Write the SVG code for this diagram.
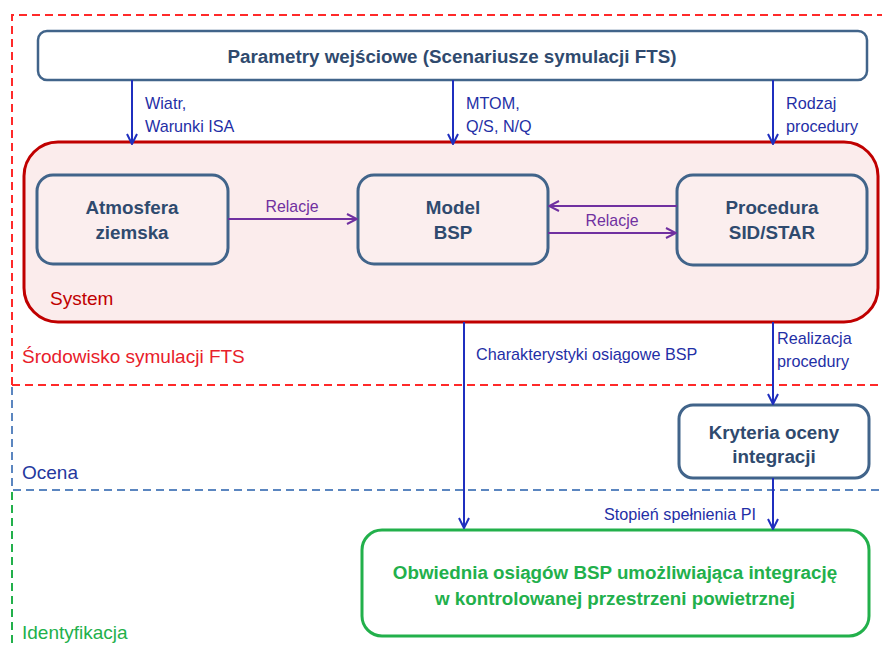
<svg xmlns="http://www.w3.org/2000/svg" width="882" height="646" viewBox="0 0 882 646">
<style>
.t{font-family:"Liberation Sans",Arial,sans-serif}
.nb{fill:#fbeeee;stroke:#41648a;stroke-width:3}
.nt{font-weight:bold;font-size:18.8px;fill:#2f4a6e;text-anchor:middle}
.bl{stroke:#1f2fbf;stroke-width:2;fill:none}
.pl{stroke:#7030a0;stroke-width:2;fill:none}
.bt{font-size:16.2px;fill:#1f2fa6}
.pt{font-size:15.9px;fill:#7030a0;text-anchor:middle}
.dz{fill:none;stroke-width:2;stroke-dasharray:8,5}
</style>
<defs>
<marker id="ab" viewBox="0 0 12 12" refX="11" refY="6" markerWidth="12" markerHeight="12" markerUnits="userSpaceOnUse" orient="auto">
<path d="M1,1 L11,6 L1,11" fill="none" stroke="#1f2fbf" stroke-width="2"/>
</marker>
<marker id="ap" viewBox="0 0 12 12" refX="11" refY="6" markerWidth="12" markerHeight="12" markerUnits="userSpaceOnUse" orient="auto">
<path d="M1,1 L11,6 L1,11" fill="none" stroke="#7030a0" stroke-width="2"/>
</marker>
</defs>
<rect width="882" height="646" fill="#ffffff"/>
<g id="zones">
<path class="dz" d="M12,385 V15 H882" stroke="#ff2a2a"/>
<path class="dz" d="M12,385 H882" stroke="#ff2a2a"/>
<path class="dz" d="M12,387 V490 H882" stroke="#5b86c0"/>
<path class="dz" d="M12,492 V646" stroke="#22b04b"/>
<text class="t" x="22" y="363" font-size="19" fill="#e8202a">Środowisko symulacji FTS</text>
<text class="t" x="22" y="479" font-size="19" fill="#24389e">Ocena</text>
<text class="t" x="22" y="639" font-size="19" fill="#22b04b">Identyfikacja</text>
</g>
<g id="system">
<rect x="24" y="142" width="854" height="180" rx="34" fill="#fbecec" stroke="#c00000" stroke-width="3"/>
<text class="t" x="50" y="305" font-size="19" fill="#c00000">System</text>
</g>
<g id="params">
<rect x="38" y="31" width="829" height="49" rx="9" fill="#ffffff" stroke="#41648a" stroke-width="2.5"/>
<text class="t nt" x="452" y="63">Parametry wejściowe (Scenariusze symulacji FTS)</text>
</g>
<g id="atmosfera">
<rect class="nb" x="37" y="175" width="191" height="89" rx="16"/>
<text class="t nt" x="132" y="214">Atmosfera</text>
<text class="t nt" x="132" y="239">ziemska</text>
</g>
<g id="model">
<rect class="nb" x="358" y="175" width="190" height="89" rx="16"/>
<text class="t nt" x="453" y="214">Model</text>
<text class="t nt" x="453" y="239">BSP</text>
</g>
<g id="procedura">
<rect class="nb" x="677" y="175" width="190" height="90" rx="16"/>
<text class="t nt" x="772" y="214">Procedura</text>
<text class="t nt" x="772" y="239">SID/STAR</text>
</g>
<g id="kryteria">
<rect x="679" y="405" width="190" height="73" rx="14" fill="#ffffff" stroke="#41648a" stroke-width="3"/>
<text class="t nt" x="774" y="439">Kryteria oceny</text>
<text class="t nt" x="774" y="463">integracji</text>
</g>
<g id="obwiednia">
<rect x="362" y="530" width="507" height="106" rx="20" fill="#ffffff" stroke="#22b04b" stroke-width="3"/>
<text class="t nt" x="615" y="579" style="fill:#22b04b">Obwiednia osiągów BSP umożliwiająca integrację</text>
<text class="t nt" x="615" y="605" style="fill:#22b04b">w kontrolowanej przestrzeni powietrznej</text>
</g>
<g id="connectors">
<line class="bl" x1="132" y1="80" x2="132" y2="144" marker-end="url(#ab)"/>
<line class="bl" x1="453" y1="80" x2="453" y2="144" marker-end="url(#ab)"/>
<line class="bl" x1="773" y1="80" x2="773" y2="144" marker-end="url(#ab)"/>
<line class="pl" x1="228" y1="219" x2="357" y2="219" marker-end="url(#ap)"/>
<line class="pl" x1="677" y1="206" x2="549" y2="206" marker-end="url(#ap)"/>
<line class="pl" x1="548" y1="233" x2="676" y2="233" marker-end="url(#ap)"/>
<line class="bl" x1="464" y1="322" x2="464" y2="528" marker-end="url(#ab)"/>
<line class="bl" x1="773" y1="322" x2="773" y2="404" marker-end="url(#ab)"/>
<line class="bl" x1="773" y1="478" x2="773" y2="529" marker-end="url(#ab)"/>
<text class="t bt" x="145" y="109">Wiatr,</text>
<text class="t bt" x="145" y="132">Warunki ISA</text>
<text class="t bt" x="466" y="109">MTOM,</text>
<text class="t bt" x="466" y="132">Q/S, N/Q</text>
<text class="t bt" x="786" y="109">Rodzaj</text>
<text class="t bt" x="786" y="132">procedury</text>
<text class="t pt" x="292" y="212">Relacje</text>
<text class="t pt" x="612" y="226">Relacje</text>
<text class="t bt" x="476" y="360">Charakterystyki osiągowe BSP</text>
<text class="t bt" x="777" y="344">Realizacja</text>
<text class="t bt" x="777" y="367">procedury</text>
<text class="t bt" x="756" y="520" text-anchor="end">Stopień spełnienia PI</text>
</g>
</svg>
